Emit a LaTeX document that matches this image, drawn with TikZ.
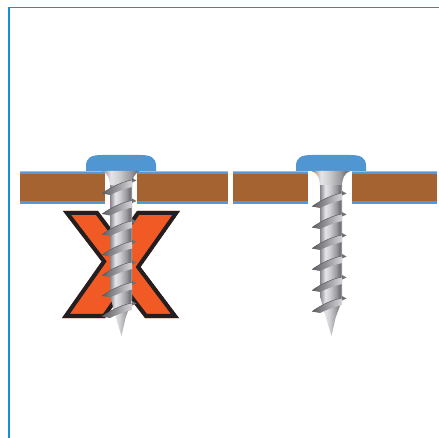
\documentclass[tikz,border=0pt]{standalone}
\definecolor{frameblue}{RGB}{18,146,214}
\definecolor{boardbrown}{RGB}{166,99,50}
\definecolor{boardblue}{RGB}{88,150,212}
\definecolor{boardlight}{RGB}{150,192,232}
\definecolor{headblue}{RGB}{80,150,210}
\definecolor{xorange}{RGB}{241,90,36}
\definecolor{xblack}{RGB}{35,31,32}
\definecolor{mA}{rgb}{0.52,0.52,0.54}
\definecolor{mB}{rgb}{0.90,0.90,0.91}
\definecolor{mC}{rgb}{0.80,0.80,0.81}
\definecolor{mD}{rgb}{0.60,0.60,0.62}
\definecolor{mE}{rgb}{0.44,0.44,0.46}
\definecolor{mF}{rgb}{0.66,0.66,0.68}
\definecolor{threaddark}{rgb}{0.36,0.36,0.38}
\definecolor{threadlight}{rgb}{0.84,0.84,0.85}
% brushed-steel look across the screw body (inner 25bp--75bp maps to the path)
\pgfdeclarehorizontalshading{metal}{100bp}{color(0bp)=(mA); color(25bp)=(mA);
  color(37bp)=(mB); color(48bp)=(mC); color(62bp)=(mD); color(70bp)=(mE);
  color(75bp)=(mF); color(100bp)=(mF)}
\tikzset{
  xoutline/.style={insert path={(63,211) -- (98,211) -- (118.3,237.8) -- (137,211)
    -- (180,211) -- (140.6,267) -- (179,318) -- (145,318) -- (124.1,290.8)
    -- (105,318) -- (62,318) -- (101.7,261.5) -- cycle}},
  metalbody/.style={shading=metal},
  crest/.style={draw=threaddark, line width=0.5pt}
}
% one length of board between x=#1 and x=#2
\newcommand\boardpiece[2]{%
  \fill[boardblue] (#1,171) rectangle (#2,204);
  \fill[boardlight] (#1,171) rectangle (#2,172.2);
  \fill[boardbrown] (#1,174) rectangle (#2,201);}
% screw centred at x=#1, first thread at y=#2, thread pitch #3, last thread index #4
\newcommand\drawscrew[4]{%
  \begin{scope}[shift={(#1,0)}]
    \fill[headblue] (-35,171) -- (-35,166) .. controls (-35,157) and (-29,155) .. (-19,155)
      -- (19,155) .. controls (29,155) and (35,157) .. (35,166) -- (35,171) -- cycle;
    \shade[metalbody] (-19.5,171) .. controls (-13,173) and (-11,179) .. (-11,187)
      -- (11,187) .. controls (11,179) and (13,173) .. (19.5,171) -- cycle;
    \shade[metalbody] (-11,186) rectangle (11,297);
    \shade[metalbody] (-11,296) -- (-5,318) -- (0.5,336) -- (4.5,318) -- (11,300)
      -- (11,296) -- cycle;
    \foreach \i in {0,...,#4}{
      \pgfmathsetmacro\yr{#2+#3*\i}
      \shade[left color=threaddark, right color=threadlight]
        (11,\yr) .. controls (2,\yr+1.5) and (-10,\yr+7) .. (-19,\yr+13.5)
        -- (-11,\yr+15) .. controls (-3,\yr+11) and (5,\yr+8.5) .. (11,\yr+7) -- cycle;
      \draw[crest] (11,\yr) .. controls (2,\yr+1.5) and (-10,\yr+7) .. (-19,\yr+13.5);
      \fill[mE] (11,\yr-2) -- (15.5,\yr+0.5) -- (11,\yr+2.5) -- cycle;
    }
  \end{scope}}
\begin{document}
\begin{tikzpicture}[x=1pt,y=-1pt]
  \useasboundingbox (0,0) rectangle (439,438);
  \fill[white] (0,0) rectangle (439,438);
  % frame
  \draw[frameblue, line width=1.6pt] (8.7,438) -- (8.7,7.7) -- (439,7.7);
  % boards
  \boardpiece{20}{105}
  \boardpiece{137}{228}
  \boardpiece{233}{307.5}
  \boardpiece{351.5}{437}
  % the cross
  \begin{scope}
    \clip[xoutline];
    \fill[xorange][xoutline];
    \draw[xblack, line width=8pt, line join=miter][xoutline];
  \end{scope}
  % screws
  \drawscrew{121}{180}{20.5}{6}
  \drawscrew{331}{193}{21}{5}
\end{tikzpicture}
\end{document}
